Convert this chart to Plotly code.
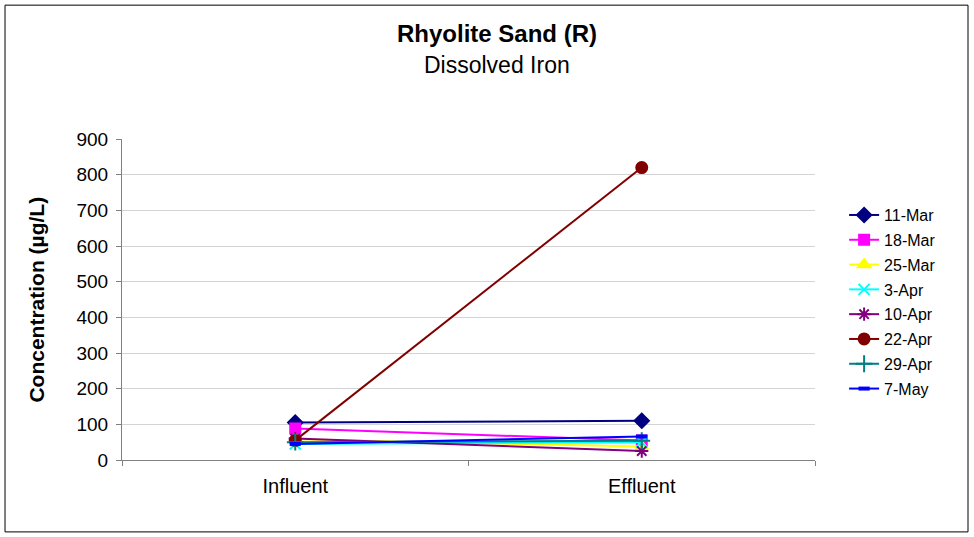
import plotly.graph_objects as go

categories = ["Influent", "Effluent"]
series_names = ["11-Mar", "18-Mar", "25-Mar", "3-Apr", "10-Apr", "22-Apr", "29-Apr", "7-May"]
v_11mar = [105, 110]
v_18mar = [88, 55]
v_25mar = [58, 38]
v_3apr = [45, 50]
v_10apr = [60, 25]
v_22apr = [55, 820]
v_29apr = [50, 54]
v_7may = [45, 66]
series_values = [v_11mar, v_18mar, v_25mar, v_3apr, v_10apr, v_22apr, v_29apr, v_7may]
y_ticks = [0, 100, 200, 300, 400, 500, 600, 700, 800, 900]

colors = ["#000080", "#FF00FF", "#FFFF00", "#00FFFF", "#800080", "#800000", "#008080", "#0000FF"]
symbols = ["diamond", "square", "triangle-up", "x-thin-open", "asterisk-open", "circle", "cross-thin-open", "line-ew-open"]
sizes = [11, 10, 11, 11, 11, 11, 12, 8]
mwidths = [2, 2, 2, 2, 2, 2, 2, 4]

fig = go.Figure()
for i, (name, vals) in enumerate(zip(series_names, series_values)):
    fig.add_trace(go.Scatter(
        x=categories, y=vals, name=name, mode="lines+markers",
        legendgroup=name,
        line=dict(color=colors[i], width=2),
        marker=dict(symbol=symbols[i], size=sizes[i], color=colors[i],
                    line=dict(color=colors[i], width=mwidths[i])),
    ))

fig.update_layout(
    width=974, height=537,
    margin=dict(l=122, r=159, t=139, b=77),
    paper_bgcolor="white", plot_bgcolor="white",
    font=dict(family="Arial, Liberation Sans", color="#000000"),
    showlegend=True,
    legend=dict(x=1.042, xanchor="left", y=0.816, yanchor="top",
                font=dict(size=16, family="Arial, Liberation Sans"),
                tracegroupgap=1, bgcolor="rgba(0,0,0,0)"),
    xaxis=dict(type="category", range=[-0.5, 1.5], tickson="boundaries",
               ticks="outside", ticklen=5, tickcolor="#808080",
               showline=True, linecolor="#808080", linewidth=1,
               showgrid=False, tickfont=dict(size=20), ticklabelstandoff=8),
    yaxis=dict(range=[0, 900], tickvals=y_ticks, ticks="outside", ticklen=5,
               tickcolor="#808080", showline=True, linecolor="#808080", linewidth=1,
               showgrid=True, gridcolor="#d4d4d4", gridwidth=1, zeroline=False,
               tickfont=dict(size=19), ticklabelstandoff=4),
    shapes=[dict(type="rect", xref="paper", yref="paper",
                 x0=-0.1688, x1=1.2208, y0=-0.224, y1=1.417,
                 line=dict(color="black", width=1), layer="below")],
    annotations=[
        dict(text="<b>Rhyolite Sand (R)</b>", xref="paper", yref="paper",
             x=0.541, y=1.330, xanchor="center", yanchor="middle",
             showarrow=False, font=dict(size=24)),
        dict(text="Dissolved Iron", xref="paper", yref="paper",
             x=0.541, y=1.2305, xanchor="center", yanchor="middle",
             showarrow=False, font=dict(size=23)),
        dict(text="<b>Concentration (µg/L)</b>", xref="paper", yref="paper",
             x=-0.124, y=0.5, xanchor="center", yanchor="middle", textangle=-90,
             showarrow=False, font=dict(size=21)),
    ],
)

fig.write_html("out.html", config={"displayModeBar": False},
               post_script="document.body.style.margin='0';")
